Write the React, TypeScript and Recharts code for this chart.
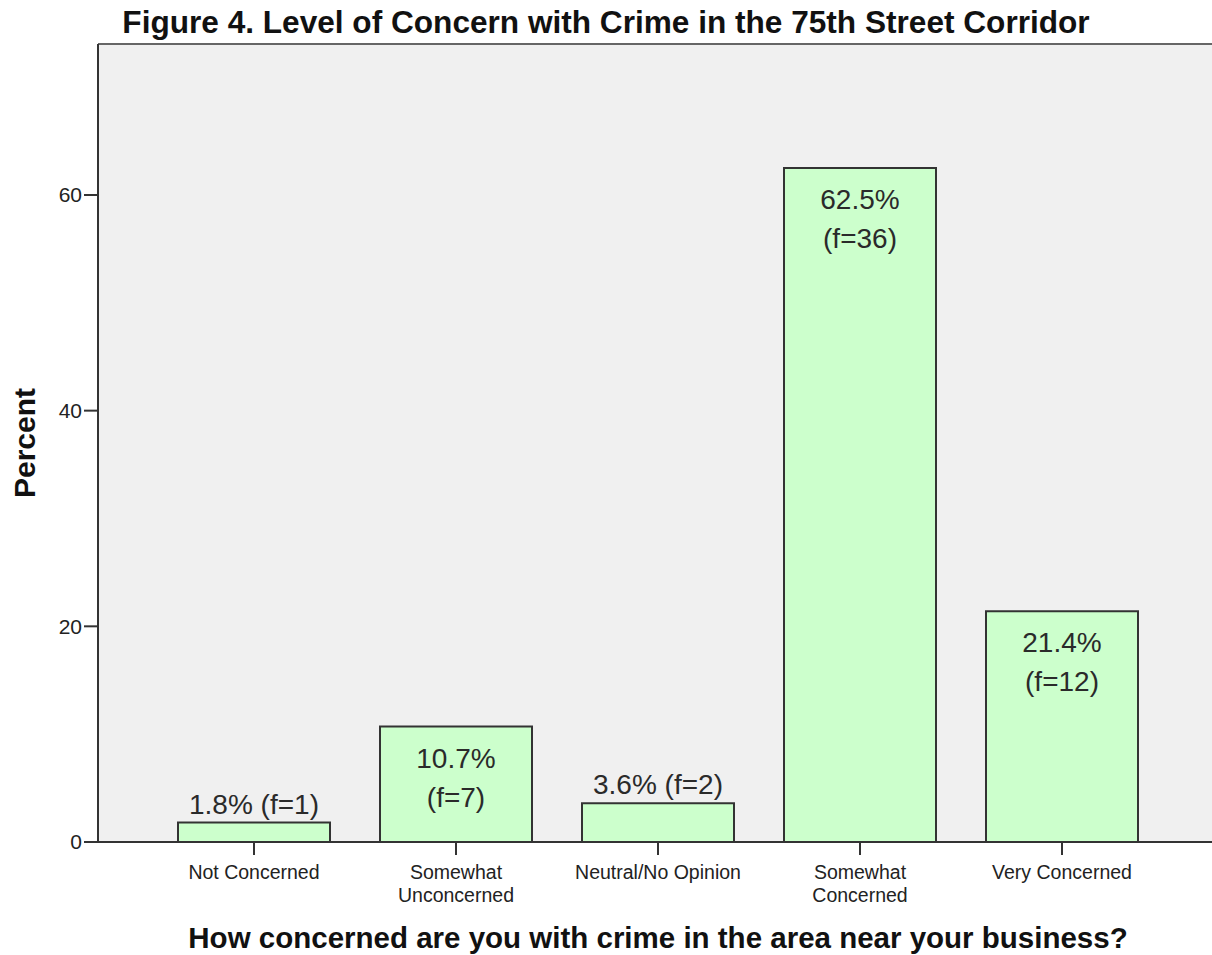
import React from "react";
import {
  Bar,
  BarChart,
  CartesianGrid,
  LabelList,
  ReferenceLine,
  XAxis,
  YAxis
} from "recharts";

const categories = [
  "Not Concerned",
  "Somewhat Unconcerned",
  "Neutral/No Opinion",
  "Somewhat Concerned",
  "Very Concerned"
];
const tickLines = [
  ["Not Concerned"],
  ["Somewhat", "Unconcerned"],
  ["Neutral/No Opinion"],
  ["Somewhat", "Concerned"],
  ["Very Concerned"]
];
const percents = [1.8, 10.7, 3.6, 62.5, 21.4];
const counts = [1, 7, 2, 36, 12];
const yTicks = [0, 20, 40, 60];
const yMax = 74;

const title = "Figure 4. Level of Concern with Crime in the 75th Street Corridor";
const xTitle = "How concerned are you with crime in the area near your business?";
const yTitle = "Percent";

const data = categories.map((name, i) => ({ name, percent: percents[i], count: counts[i] }));

const FONT = '"Liberation Sans", Arial, Helvetica, sans-serif';

// multi-line category label: one <text>, one tspan per line
function CategoryTick(props: any) {
  const { x, y, payload } = props;
  const lines = tickLines[payload.index] ?? [String(payload.value)];
  return (
    <text
      x={x}
      y={y + 22}
      textAnchor="middle"
      fontFamily={FONT}
      fontSize={19.5}
      fill="#222"
    >
      {lines.map((line: string, i: number) => (
        <tspan key={i} x={x} dy={i === 0 ? 0 : 22.5}>
          {line}
        </tspan>
      ))}
    </text>
  );
}

function BarText(props: any) {
  const { x, y, width, value, index } = props;
  const cx = x + width / 2;
  const pct = `${Number(value).toFixed(1)}%`;
  const f = `(f=${counts[index]})`;
  const style = { fontFamily: FONT, fontSize: 28, fill: "#2a2a2a" };
  if (value >= 10) {
    return (
      <text x={cx} y={y + 41} textAnchor="middle" {...style}>
        <tspan x={cx}>{pct}</tspan>
        <tspan x={cx} dy={39}>
          {f}
        </tspan>
      </text>
    );
  }
  return (
    <text x={cx} y={y - 9} textAnchor="middle" {...style}>
      {`${pct} ${f}`}
    </text>
  );
}

export default function App() {
  return (
    <div
      style={{
        position: "absolute",
        left: 0,
        top: 0,
        width: 1212,
        height: 955,
        overflow: "hidden",
        background: "#fff"
      }}
    >
      <div
        style={{
          position: "absolute",
          left: 0,
          top: 7,
          width: 1212,
          textAlign: "center",
          fontFamily: FONT,
          fontWeight: "bold",
          fontSize: 31.6,
          lineHeight: "31px",
          color: "#111"
        }}
      >
        {title}
      </div>
      <BarChart
        width={1240}
        height={955}
        data={data}
        margin={{ top: 44, right: 22, bottom: 0, left: 0 }}
      >
        <CartesianGrid horizontal={false} vertical={false} fill="#f0f0f0" />
        <ReferenceLine y={yMax} stroke="#666" strokeWidth={2} />
        <XAxis
          dataKey="name"
          height={113}
          padding={{ left: 55, right: 55 }}
          axisLine={{ stroke: "#333", strokeWidth: 2 }}
          tickLine={{ stroke: "#333", strokeWidth: 2 }}
          tickSize={13}
          tickMargin={2}
          interval={0}
          tick={<CategoryTick />}
          label={{
            content: (p: any) => {
              const vb = p.viewBox;
              return (
                <text
                  x={vb.x + vb.width / 2}
                  y={vb.y + 106}
                  textAnchor="middle"
                  fontFamily={FONT}
                  fontWeight="bold"
                  fontSize={29.5}
                  fill="#111"
                >
                  {xTitle}
                </text>
              );
            }
          }}
        />
        <YAxis
          width={98}
          domain={[0, yMax]}
          ticks={yTicks}
          interval={0}
          tickSize={14}
          tickMargin={2}
          axisLine={{ stroke: "#333", strokeWidth: 2 }}
          tickLine={{ stroke: "#333", strokeWidth: 2 }}
          tick={{ fontFamily: FONT, fontSize: 21, fill: "#222" }}
          label={{
            content: (p: any) => {
              const vb = p.viewBox;
              const cy = vb.y + vb.height / 2;
              return (
                <text
                  x={35}
                  y={cy}
                  transform={`rotate(-90, 35, ${cy})`}
                  textAnchor="middle"
                  fontFamily={FONT}
                  fontWeight="bold"
                  fontSize={30}
                  fill="#111"
                >
                  {yTitle}
                </text>
              );
            }
          }}
        />
        <Bar
          dataKey="percent"
          barSize={152}
          fill="#ccffcc"
          stroke="#333"
          strokeWidth={2}
          isAnimationActive={false}
        >
          <LabelList dataKey="percent" content={<BarText />} />
        </Bar>
      </BarChart>
    </div>
  );
}
